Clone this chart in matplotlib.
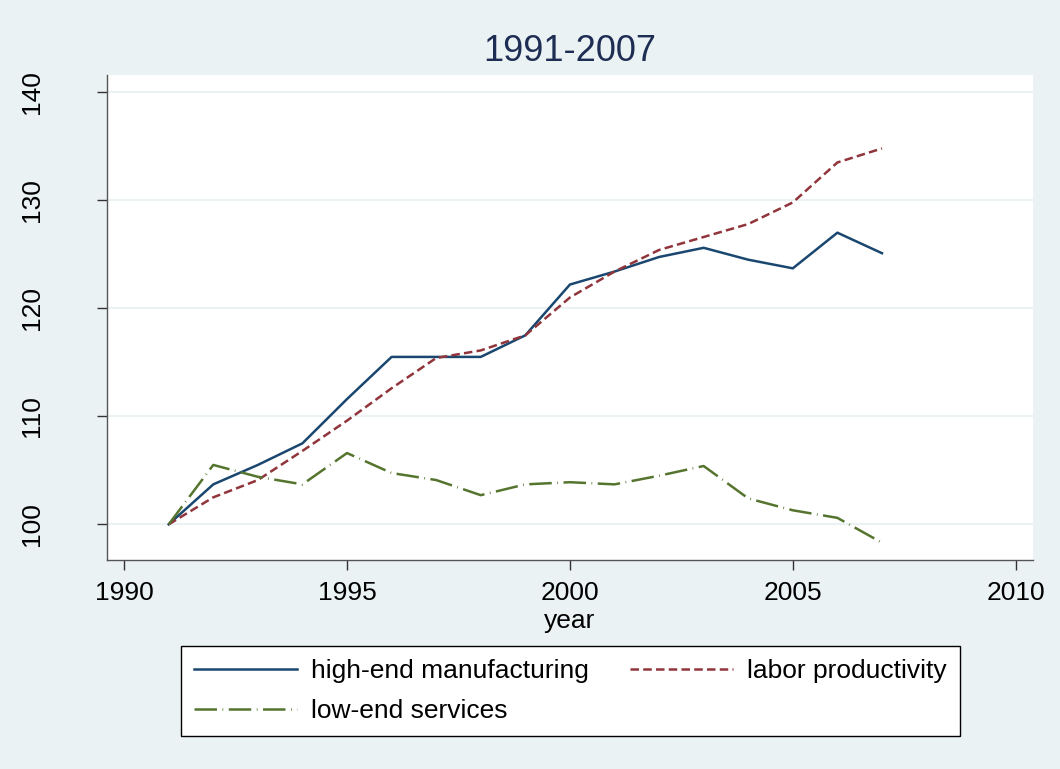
import matplotlib.pyplot as plt

years = list(range(1991, 2008))
high_end = [100, 103.7, 105.5, 107.5, 111.6, 115.5, 115.5, 115.5, 117.5, 122.2,
            123.4, 124.75, 125.6, 124.5, 123.7, 127.0, 125.1]
labor_prod = [100, 102.5, 104.1, 106.8, 109.6, 112.6, 115.4, 116.1, 117.5, 121.0,
              123.4, 125.4, 126.6, 127.8, 129.8, 133.5, 134.8]
low_end = [100, 105.5, 104.4, 103.7, 106.6, 104.75, 104.1, 102.7, 103.7, 103.9,
           103.7, 104.5, 105.4, 102.4, 101.3, 100.6, 98.3]

xticks = [1990, 1995, 2000, 2005, 2010]
yticks = [100, 110, 120, 130, 140]

bg = '#EAF2F3'
plt.rcParams['font.family'] = ['Liberation Sans', 'DejaVu Sans']
fs = 19

fig = plt.figure(figsize=(10.6, 7.69), dpi=100, facecolor=bg)
ax = fig.add_axes([0.1007, 0.2718, 0.8735, 0.6307])
ax.set_facecolor('white')

h1, = ax.plot(years, high_end, color='#1A476F', lw=1.8, label='high-end manufacturing')
h2, = ax.plot(years, labor_prod, color='#90353B', lw=1.8, dashes=(3.4, 1.7),
              label='labor productivity')
h3, = ax.plot(years, low_end, color='#55752F', lw=1.8, dashes=(9, 2.2, 0.3, 2.2),
              label='low-end services')

ax.set_xlim(1989.61, 2010.38)
ax.set_ylim(96.7, 141.6)
ax.set_xticks(xticks)
ax.set_yticks(yticks)
ax.grid(axis='y', color=bg, lw=1.5)
ax.set_axisbelow(True)

for s in ['top', 'right']:
    ax.spines[s].set_visible(False)
for s in ['left', 'bottom']:
    ax.spines[s].set_color('#555555')
    ax.spines[s].set_linewidth(1.0)

ax.tick_params(axis='both', length=7, width=1, color='#333333', labelsize=fs)
ax.tick_params(axis='x', pad=8)
ax.tick_params(axis='y', pad=38)
for lbl in ax.get_yticklabels():
    lbl.set_rotation(90)
    lbl.set_va('center')

ax.set_xlabel('year', fontsize=fs, labelpad=3)
ax.set_title('1991-2007', fontsize=26, color='#1E2D53', pad=10)

# matplotlib fills legend columns first, so order handles to get row-major layout
leg = fig.legend([h1, h3, h2], [h1.get_label(), h3.get_label(), h2.get_label()],
                 loc='center', bbox_to_anchor=(0.538, 0.1015), ncol=2,
                 fontsize=fs, handlelength=3.9, handletextpad=0.55,
                 columnspacing=1.55, frameon=True, fancybox=False,
                 edgecolor='black', facecolor='white', framealpha=1,
                 borderpad=0.48, labelspacing=0.6)
leg.get_frame().set_linewidth(1.0)

fig.savefig('out.png', dpi=100, facecolor=bg)
